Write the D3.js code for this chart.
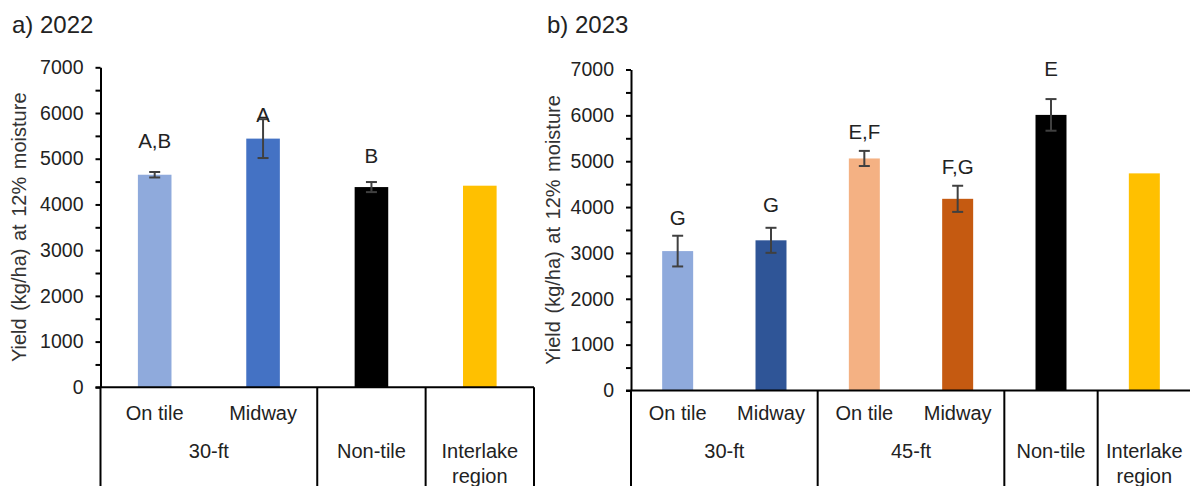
<!DOCTYPE html>
<html>
<head>
<meta charset="utf-8">
<script src="https://cdn.jsdelivr.net/npm/d3@7/dist/d3.min.js"></script>
<style>
  html, body { margin: 0; padding: 0; background: #fff; }
  svg { display: block; font-family: "Liberation Sans", Arial, sans-serif; }
</style>
</head>
<body>
<svg id="chart" width="1190" height="486"></svg>
<script>
// ---- 2022 ----
const catsA = ["30-ft On tile", "30-ft Midway", "Non-tile", "Interlake region"];
const subLabelsA = ["On tile", "Midway", "", ""];
const groupsA = [["30-ft"], ["Non-tile"], ["Interlake", "region"]];
const groupSpansA = [2, 1, 1];
const yieldA = [4650, 5440, 4380, 4410];
const seA = [60, 425, 110, 0];
const lettersA = ["A,B", "A", "B", ""];
const letterAtA = [5230, 5810, 4900, 0];
const colorsA = ["#8FAADC", "#4472C4", "#000000", "#FFC000"];

// ---- 2023 ----
const catsB = ["30-ft On tile", "30-ft Midway", "45-ft On tile", "45-ft Midway", "Non-tile", "Interlake region"];
const subLabelsB = ["On tile", "Midway", "On tile", "Midway", "", ""];
const groupsB = [["30-ft"], ["45-ft"], ["Non-tile"], ["Interlake", "region"]];
const groupSpansB = [2, 2, 1, 1];
const yieldB = [3040, 3275, 5060, 4180, 6010, 4735];
const seB = [335, 273, 165, 285, 345, 0];
const lettersB = ["G", "G", "E,F", "F,G", "E", ""];
const letterAtB = [3600, 3890, 5480, 4725, 6865, 0];
const colorsB = ["#8FAADC", "#2F5597", "#F4B183", "#C55A11", "#000000", "#FFC000"];

const yTicks = d3.range(0, 7001, 500);
const yTitle = "Yield (kg/ha) at 12% moisture";

const svg = d3.select("#chart");
const H = 486;
const textColor = "#222";

function drawPanel(o) {
  const g = svg.append("g");

  const x = d3.scaleBand().domain(o.cats).range([o.x0, o.x1])
    .paddingInner(o.pad).paddingOuter(o.pad / 2);
  const y = d3.scaleLinear().domain([0, 7000]).range([o.y0, o.y1]);

  // panel title
  g.append("text").attr("x", o.titleX).attr("y", 33)
    .attr("font-size", 24).attr("fill", textColor).text(o.title);

  // y axis with a tick every 500, labels on the thousands
  const ax = g.append("g").attr("transform", `translate(${o.x0},0)`)
    .call(d3.axisLeft(y).tickValues(yTicks)
      .tickFormat(d => d % 1000 === 0 ? d : "")
      .tickSize(5).tickSizeOuter(0).tickPadding(12));
  ax.select(".domain").attr("stroke", "#000").attr("stroke-width", 2);
  ax.selectAll(".tick line").attr("stroke", "#000").attr("stroke-width", 2);
  ax.selectAll(".tick text").attr("font-size", 19.5).attr("fill", textColor)
    .attr("font-family", "Liberation Sans, Arial, sans-serif");

  // y axis title
  g.append("text")
    .attr("transform", `translate(${o.titleYX},${(o.y0 + o.y1) / 2}) rotate(-90)`)
    .attr("text-anchor", "middle").attr("font-size", 20)
    .attr("word-spacing", 2).attr("fill", "#333").text(yTitle);

  // bars
  g.selectAll("rect.bar").data(o.cats).join("rect").attr("class", "bar")
    .attr("x", d => x(d)).attr("width", x.bandwidth())
    .attr("y", (d, i) => y(o.values[i]))
    .attr("height", (d, i) => y(0) - y(o.values[i]))
    .attr("fill", (d, i) => o.colors[i]);

  // error bars
  const cap = 5.5;
  o.cats.forEach((c, i) => {
    if (!o.se[i]) return;
    const cx = x(c) + x.bandwidth() / 2;
    const hi = y(o.values[i] + o.se[i]), lo = y(o.values[i] - o.se[i]);
    const eg = g.append("g").attr("stroke", "#404040").attr("stroke-width", 2);
    eg.append("line").attr("x1", cx).attr("x2", cx).attr("y1", hi).attr("y2", lo);
    eg.append("line").attr("x1", cx - cap).attr("x2", cx + cap).attr("y1", hi).attr("y2", hi);
    eg.append("line").attr("x1", cx - cap).attr("x2", cx + cap).attr("y1", lo).attr("y2", lo);
  });

  // significance letters
  g.selectAll("text.letter").data(o.cats).join("text").attr("class", "letter")
    .attr("x", d => x(d) + x.bandwidth() / 2)
    .attr("y", (d, i) => y(o.letterAt[i]))
    .attr("text-anchor", "middle").attr("font-size", 20.5).attr("fill", textColor)
    .text((d, i) => o.letters[i]);

  // category table below the axis
  const step = x.step();
  const lines = g.append("g").attr("stroke", "#000").attr("stroke-width", 2);
  lines.append("line").attr("x1", o.x0 - 5).attr("x2", o.x1).attr("y1", o.y0).attr("y2", o.y0);
  lines.append("line").attr("x1", o.x0).attr("x2", o.x0).attr("y1", o.y0).attr("y2", H + 2);
  let k = 0;
  o.groups.forEach((lab, gi) => {
    const span = o.spans[gi];
    const left = o.x0 + k * step, right = o.x0 + (k + span) * step;
    lines.append("line").attr("x1", right).attr("x2", right).attr("y1", o.y0).attr("y2", H + 2);
    const t = g.append("text").attr("x", (left + right) / 2).attr("y", 458)
      .attr("text-anchor", "middle").attr("font-size", 20).attr("fill", textColor);
    lab.forEach((s, li) => t.append("tspan").attr("x", (left + right) / 2)
      .attr("dy", li === 0 ? 0 : 24.5).text(s));
    k += span;
  });
  g.selectAll("text.sub").data(o.cats).join("text").attr("class", "sub")
    .attr("x", d => x(d) + x.bandwidth() / 2).attr("y", 420)
    .attr("text-anchor", "middle").attr("font-size", 20).attr("fill", textColor)
    .text((d, i) => o.subs[i]);
}

drawPanel({
  cats: catsA, subs: subLabelsA, groups: groupsA, spans: groupSpansA,
  values: yieldA, se: seA, letters: lettersA, letterAt: letterAtA, colors: colorsA,
  x0: 100.5, x1: 534, y0: 387.3, y1: 67.3, pad: 0.69,
  title: "a) 2022", titleX: 12, titleYX: 26
});

drawPanel({
  cats: catsB, subs: subLabelsB, groups: groupsB, spans: groupSpansB,
  values: yieldB, se: seB, letters: lettersB, letterAt: letterAtB, colors: colorsB,
  x0: 631, x1: 1191, y0: 390.5, y1: 69.5, pad: 0.668,
  title: "b) 2023", titleX: 547, titleYX: 560
});
</script>
</body>
</html>
